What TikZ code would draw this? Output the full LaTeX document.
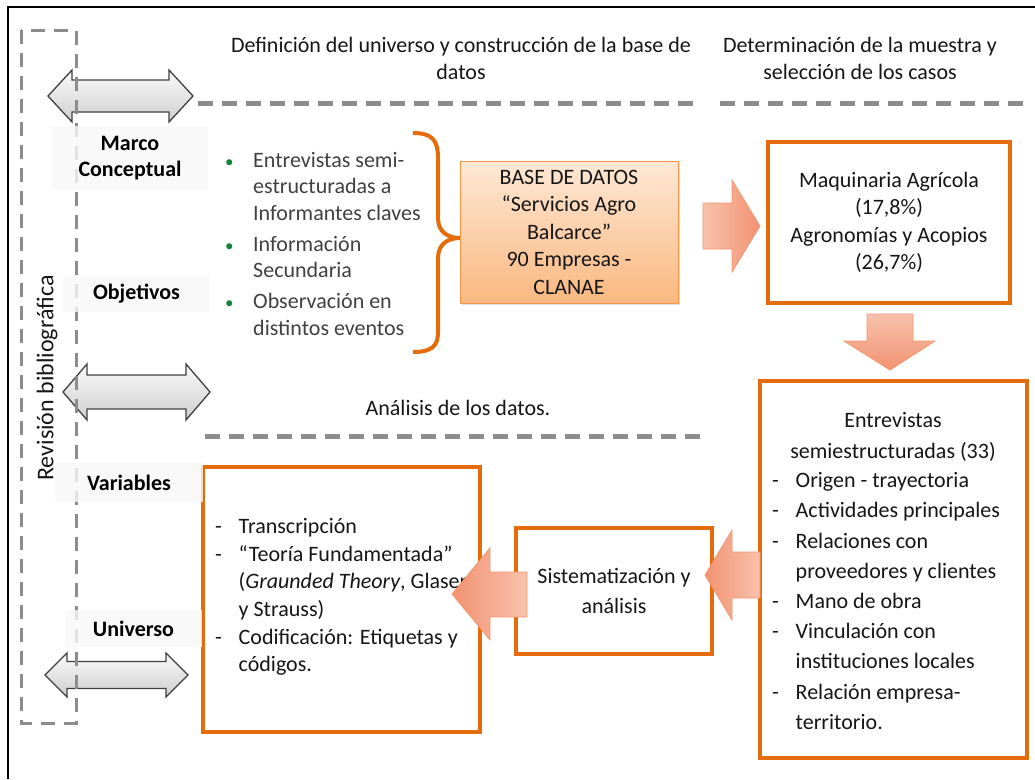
\documentclass[tikz,border=0pt]{standalone}
\usepackage{fontspec}
\setmainfont{Carlito}
\usetikzlibrary{shadows}

% palette
\definecolor{accent}{RGB}{228,108,10}
\definecolor{ink}{RGB}{22,22,22}
\definecolor{listink}{RGB}{64,64,64}
\definecolor{bulletgreen}{RGB}{20,130,60}
\definecolor{dashgray}{RGB}{140,140,140}
\definecolor{salmonlight}{RGB}{248,194,172}
\definecolor{salmondark}{RGB}{242,146,114}
\definecolor{salmonedge}{RGB}{242,150,112}
\definecolor{dbtop}{RGB}{253,232,214}
\definecolor{dbbottom}{RGB}{250,184,128}
\definecolor{dbedge}{RGB}{247,150,70}
\definecolor{labelfill}{RGB}{248,248,248}

\newcommand{\setfs}[2]{\fontsize{#1}{#2}\selectfont}
\newcommand{\dashitem}{\makebox[23.5pt][l]{-}}
\newcommand{\dashcont}{\hspace*{23.5pt}}
\newcommand{\greenbullet}{\makebox[28pt][l]{\textcolor{bulletgreen}{\setfs{17}{17}\textbullet}}}

% grey double-headed block arrow: x-left, x-right, y-centre, head half-height, shaft half-height, head length
\newcommand{\dblarrow}[6]{%
  \path[grayarrow] (#1,#3) -- (#1+#6,#3-#4) -- (#1+#6,#3-#5) -- (#2-#6,#3-#5)
    -- (#2-#6,#3-#4) -- (#2,#3) -- (#2-#6,#3+#4) -- (#2-#6,#3+#5)
    -- (#1+#6,#3+#5) -- (#1+#6,#3+#4) -- cycle;}

\begin{document}
\begin{tikzpicture}[x=1pt,y=-1pt,
  stagebox/.style={draw=accent, line width=4.5pt, fill=white, inner sep=0pt},
  labelbox/.style={fill=labelfill, fill opacity=0.8, text opacity=1, inner sep=0pt,
    font=\bfseries\setfs{22}{26}, text=black, align=center},
  heading/.style={align=center, font=\setfs{22}{27}, text=ink, inner sep=0pt},
  boxtext/.style={align=center, font=\setfs{22}{27.5}, text=ink, inner sep=0pt},
  listtext/.style={align=left, font=\setfs{22}{30.2}, text=ink, anchor=west, inner sep=0pt},
  blockarrow/.style={draw=salmonedge, line width=0.8pt},
  grayarrow/.style={draw=black!75, line width=1.3pt, top color=gray!4, bottom color=gray!38},
  guide/.style={dashgray, line width=5pt, dash pattern=on 15pt off 9pt},
]
\useasboundingbox (0,0) rectangle (1035,779);

% outer frame
\draw[line width=2.5pt] (8,779) -- (8,7) -- (1035,7);

% grey double arrows marking the stages
\dblarrow{48}{193}{96}{26}{16}{24}
\dblarrow{63}{210}{392}{28}{17}{24}
\dblarrow{45}{188}{675}{22}{13.5}{22}

% dashed guide lines under the stage titles
\draw[guide] (198,103) -- (700,103);
\draw[guide] (720,103) -- (1030,103);
\draw[guide] (205,436) -- (707,436);

% stage titles
\node[heading] (t1) at (461,58) {Definición del universo y construcción de la base de\\datos};
\node[heading] (t2) at (860,58) {Determinación de la muestra y\\selección de los casos};
\node[heading] (t3) at (458,408) {Análisis de los datos.};

% literature review column
\draw[dashgray, line width=3pt, dash pattern=on 14pt off 9pt] (21,30) rectangle (76,723);
\node[rotate=90, font=\setfs{24}{28}, text=ink] (rev) at (47,378) {Revisión bibliográfica};

% sources
\node[listtext, text=listink, font=\setfs{22}{26.5}] (src) at (225,244)
  {\greenbullet Entrevistas semi-\\
   \hspace*{28pt}estructuradas a\\
   \hspace*{28pt}Informantes claves\\[4.5pt]
   \greenbullet Información\\
   \hspace*{28pt}Secundaria\\[4.5pt]
   \greenbullet Observación en\\
   \hspace*{28pt}distintos eventos};

% brace gathering the sources
\draw[accent, line width=4pt]
  (413,133) .. controls (432,133) and (438,140) .. (438,158) -- (438,218)
  .. controls (438,232) and (448,238) .. (460,238)
  .. controls (448,238) and (438,244) .. (438,258) -- (438,332)
  .. controls (438,346) and (432,352) .. (413,352);

% database
\node[draw=dbedge, line width=1pt, top color=dbtop, bottom color=dbbottom,
      drop shadow={opacity=0.25, shadow xshift=2pt, shadow yshift=-2pt},
      minimum width=218pt, minimum height=142pt, inner sep=0pt,
      boxtext] (db) at (569,232)
  {BASE DE DATOS\\“Servicios Agro\\Balcarce”\\90 Empresas -\\CLANAE};

% sample
\node[stagebox, minimum width=242pt, minimum height=161pt, boxtext] (maq) at (889,222.5)
  {Maquinaria Agrícola\\(17,8\%)\\Agronomías y Acopios\\(26,7\%)};

% interviews
\node[stagebox, minimum width=267pt, minimum height=377pt] (ent) at (893.5,569.5) {};
\node[boxtext, font=\setfs{22}{31}] (entt) at (893,437) {Entrevistas\\semiestructuradas (33)};
\node[listtext] (entl) at (772,601)
  {\dashitem Origen -  trayectoria\\
   \dashitem Actividades principales\\
   \dashitem Relaciones con\\
   \dashcont proveedores y clientes\\
   \dashitem Mano de obra\\
   \dashitem Vinculación con\\
   \dashcont instituciones locales\\
   \dashitem Relación empresa-\\
   \dashcont territorio.};

% systematisation
\node[stagebox, minimum width=196pt, minimum height=126pt, boxtext, font=\setfs{22}{30}] (sis) at (614,591)
  {Sistematización y\\análisis};

% analysis
\node[stagebox, minimum width=277pt, minimum height=265pt] (tra) at (341.5,599.5) {};
\node[listtext, font=\setfs{22}{27.6}] (tral) at (215,597)
  {\dashitem Transcripción\\
   \dashitem “Teoría Fundamentada”\\
   \dashcont (\textit{Graunded Theory}, Glaser\\
   \dashcont y Strauss)\\
   \dashitem Codificación: Etiquetas y\\
   \dashcont códigos.};

% block arrows between the stages
\path[blockarrow, left color=salmonlight, right color=salmondark]
  (703,203) -- (732,203) -- (732,180) -- (760,226) -- (732,272) -- (732,249) -- (703,249) -- cycle;
\path[blockarrow, top color=salmonlight, bottom color=salmondark]
  (867,314) -- (913,314) -- (913,341) -- (935,341) -- (890,370) -- (844,341) -- (867,341) -- cycle;
\path[blockarrow, left color=salmondark, right color=salmonlight]
  (760,552) -- (732,552) -- (732,530) -- (705,575) -- (732,620) -- (732,598) -- (760,598) -- cycle;
\path[blockarrow, left color=salmondark, right color=salmonlight]
  (527,572) -- (490,572) -- (490,548) -- (452,594) -- (490,640) -- (490,617) -- (527,617) -- cycle;

% framework labels
\node[labelbox, minimum width=156pt, minimum height=64pt] (marco) at (130,158) {Marco\\Conceptual};
\node[labelbox, minimum width=147pt, minimum height=37pt] (obj) at (136.5,293.5) {Objetivos};
\node[labelbox, minimum width=148pt, minimum height=39pt] (var) at (129,482.5) {Variables};
\node[labelbox, minimum width=137pt, minimum height=37pt] (uni) at (133.5,628.5) {Universo};

\end{tikzpicture}
\end{document}
